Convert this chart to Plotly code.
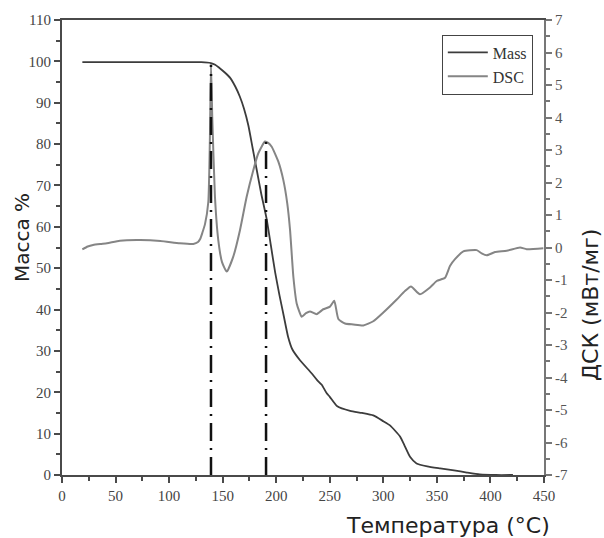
import plotly.graph_objects as go

# Mass curve (TG), % vs temperature
mass_T = [19, 60, 100, 130, 139, 143, 147, 152, 157, 162, 166, 170, 174, 178, 182, 186, 191, 195, 199,
          203, 207, 211, 215, 222, 233, 238, 242.5, 247, 250, 257, 269, 280, 290.6, 300, 306.2, 315.6, 320,
          324.9, 331, 341, 353, 366, 378, 390, 405, 421]
mass_v = [99.8, 99.8, 99.8, 99.8, 99.6, 99.2, 98.4, 97.3, 96, 93.8, 91.5, 88.5, 84.5, 79, 73.5, 68, 62, 55.5, 49,
          43.5, 38.5, 33.5, 30.4, 27.8, 24.6, 23, 21.8, 19.8, 18.9, 16.6, 15.5, 15.0, 14.4, 13.0, 12.0, 9.3, 7.0,
          4.4, 2.8, 2.1, 1.6, 1.1, 0.6, 0.15, 0, 0]

# DSC curve, mW/mg vs temperature
dsc_T = [19, 24, 29, 36, 42, 54, 73, 92, 110, 122.6, 127, 129, 131, 133.5, 136.6, 138, 139.1, 140.3, 142.8,
         145.9, 149.4, 153.8, 159.9, 166.2, 172.4, 178.6, 183.3, 189.5, 192.5, 195.8, 202, 206.6, 210.3, 212.9,
         216, 219.1, 223.8, 227.8, 231.5, 237.8, 243.9, 250.2, 254.2, 258, 264.2, 272, 281.3, 290.6, 300,
         312.5, 320.2, 325.8, 334.2, 343.6, 349.8, 357.6, 362.2, 366.9, 374.7, 387.2, 391.8, 396.5,
         404.3, 415.2, 427.6, 433.8, 449.4]
dsc_v = [-0.06, 0.03, 0.08, 0.11, 0.13, 0.21, 0.23, 0.2, 0.13, 0.11, 0.17, 0.26, 0.45, 0.72, 1.4, 3.2, 5.62,
         4.0, 1.56, 0.23, -0.45, -0.74, -0.28, 0.54, 1.56, 2.38, 2.9, 3.26, 3.22, 3.1, 2.64, 2.08, 1.36, 0.54,
         -0.9, -1.72, -2.13, -2.02, -1.97, -2.05, -1.9, -1.82, -1.64, -2.2, -2.34, -2.37, -2.4, -2.27, -2.0,
         -1.6, -1.34, -1.2, -1.44, -1.23, -1.03, -0.93, -0.57, -0.36, -0.12, -0.08, -0.18, -0.24,
         -0.14, -0.1, 0.0, -0.05, -0.02]

# Peak marker lines (temperature, DSC peak value)
peak_T = [139.1, 190.5]
peak_v = [5.62, 3.26]

x_ticks = [0, 50, 100, 150, 200, 250, 300, 350, 400, 450]
y_ticks = [0, 10, 20, 30, 40, 50, 60, 70, 80, 90, 100, 110]
y2_ticks = [-7, -6, -5, -4, -3, -2, -1, 0, 1, 2, 3, 4, 5, 6, 7]

AX = "#4a4a4a"
TICKF = dict(family="Liberation Serif", size=15, color="#444444")

fig = go.Figure()
fig.add_trace(go.Scatter(x=mass_T, y=mass_v, mode="lines", name="Mass",
                         line=dict(color="#3c3c3c", width=1.8, shape="spline", smoothing=0.5)))
fig.add_trace(go.Scatter(x=dsc_T, y=dsc_v, mode="lines", name="DSC", yaxis="y2",
                         line=dict(color="#858585", width=2, shape="spline", smoothing=0.5)))
for t, v in zip(peak_T, peak_v):
    fig.add_trace(go.Scatter(x=[t, t], y=[-7, v], mode="lines", yaxis="y2", showlegend=False,
                             line=dict(color="#111111", width=2.5, dash="18px,7px,2px,7px")))

fig.update_layout(
    width=604, height=538,
    margin=dict(l=62, r=60, t=20, b=63),
    paper_bgcolor="white", plot_bgcolor="white",
    showlegend=True,
    legend=dict(x=0.788, y=0.968, xanchor="left", yanchor="top",
                bordercolor="#444444", borderwidth=1, bgcolor="white",
                font=dict(family="Liberation Serif", size=16, color="#333333"),
                tracegroupgap=0, itemwidth=40),
    xaxis=dict(range=[0, 450], tickvals=x_ticks, ticks="outside", ticklen=6, tickwidth=2, tickcolor=AX,
               showline=True, linecolor=AX, linewidth=2, mirror=True, showgrid=False, zeroline=False,
               tickfont=TICKF,
               minor=dict(dtick=25, ticks="outside", ticklen=4, tickwidth=1.5, tickcolor=AX)),
    yaxis=dict(range=[0, 110], tickvals=y_ticks, ticks="outside", ticklen=6, tickwidth=2, tickcolor=AX,
               showline=True, linecolor=AX, linewidth=2, showgrid=False, zeroline=False,
               tickfont=TICKF,
               minor=dict(dtick=5, ticks="outside", ticklen=4, tickwidth=1.5, tickcolor=AX)),
    yaxis2=dict(range=[-7, 7], overlaying="y", side="right", tickvals=y2_ticks,
                ticktext=[str(v) for v in y2_ticks],
                ticks="outside", ticklen=6, tickwidth=2, tickcolor="#777777",
                showline=True, linecolor="#777777", linewidth=2, showgrid=False, zeroline=False,
                tickfont=dict(family="Liberation Serif", size=15, color="#555555"),
                minor=dict(dtick=0.5, ticks="outside", ticklen=4, tickwidth=1.5, tickcolor="#777777")),
    annotations=[
        dict(text="Масса %", xref="paper", yref="paper", x=-0.083, y=0.523, textangle=-90,
             showarrow=False, xanchor="center", yanchor="middle",
             font=dict(family="DejaVu Sans", size=20, color="#222222")),
        dict(text="ДСК (мВт/мг)", xref="paper", yref="paper", x=1.098, y=0.374, textangle=-90,
             showarrow=False, xanchor="center", yanchor="middle",
             font=dict(family="DejaVu Sans", size=22, color="#222222")),
        dict(text="Температура (°C)", xref="paper", yref="paper", x=1.0166, y=-0.112,
             showarrow=False, xanchor="right", yanchor="middle",
             font=dict(family="DejaVu Sans", size=22, color="#222222")),
    ],
)

fig.write_html("out.html")
